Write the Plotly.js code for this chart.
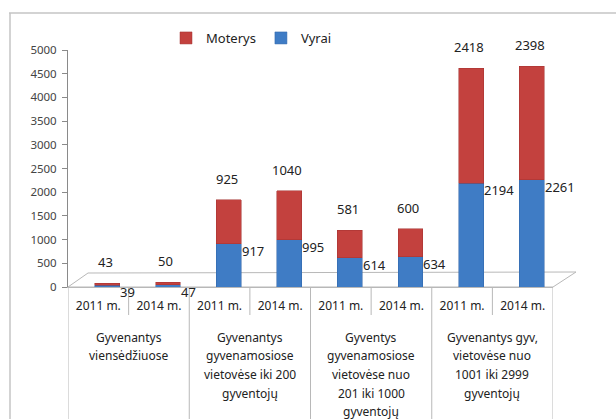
<!DOCTYPE html>
<html>
<head>
<meta charset="utf-8">
<script src="https://cdn.plot.ly/plotly-3.0.1.min.js"></script>
<style>html,body{margin:0;padding:0;background:#fff;}#chart{width:616px;height:419px;}</style>
</head>
<body>
<div id="chart"></div>
<script>
// ---- data ----
const groups = [
  "Gyvenantys\nviensėdžiuose",
  "Gyvenantys\ngyvenamosiose\nvietovėse iki 200\ngyventojų",
  "Gyventys\ngyvenamosiose\nvietovėse nuo\n201 iki 1000\ngyventojų",
  "Gyvenantys gyv,\nvietovėse nuo\n1001 iki 2999\ngyventojų"
];
const years = ["2011 m.", "2014 m."];
const vyrai   = [39, 47, 917, 995, 614, 634, 2194, 2261];
const moterys = [43, 50, 925, 1040, 581, 600, 2418, 2398];
const yTicks = [0, 500, 1000, 1500, 2000, 2500, 3000, 3500, 4000, 4500, 5000];

// ---- build categories ----
const keys = [], tickText = [];
groups.forEach((g, gi) => years.forEach(y => { keys.push("g" + gi + "|" + y); tickText.push(y); }));
const totals = vyrai.map((v, i) => v + moterys[i]);

// pixel helpers (plot area: x 68..553, y 287..50)
const L = 68, R = 553, B = 287, T = 50;
const px = v => (v - L) / (R - L);
const py = v => (B - v) / (B - T);

const FONT = "Noto Sans, Open Sans, sans-serif";
const RED = "#C3413E", BLUE = "#3F7CC5";
const barW = 0.41, barOff = -0.205 + 0.15;

const traces = [
  {type: "bar", name: "Vyrai", x: keys, y: vyrai, marker: {color: BLUE, line: {color: "#2F64A8", width: 0.5}},
   width: barW, offset: barOff, hoverinfo: "skip"},
  {type: "bar", name: "Moterys", x: keys, y: moterys, marker: {color: RED, line: {color: "#A33230", width: 0.5}},
   width: barW, offset: barOff, hoverinfo: "skip"}
];

const annotations = [];
keys.forEach((k, i) => {
  annotations.push({x: k, y: totals[i], xref: "x", yref: "y", text: String(moterys[i]), showarrow: false,
    xanchor: "center", yanchor: "middle", xshift: 7, yshift: 21, font: {family: FONT, size: 13, color: "#222"}});
  annotations.push({x: k, y: vyrai[i], xref: "x", yref: "y", text: String(vyrai[i]), showarrow: false,
    xanchor: "left", yanchor: "middle", xshift: 20, yshift: -7, font: {family: FONT, size: 13, color: "#222"}});
});
groups.forEach((g, gi) => {
  g.split("\n").forEach((line, li) => {
    annotations.push({x: gi * years.length + (years.length - 1) / 2, y: py(337 + li * 18.7), xref: "x", yref: "paper",
      text: line, showarrow: false, xanchor: "center", yanchor: "middle", font: {family: FONT, size: 12, color: "#222"}});
  });
});

const shapes = [];
const gridC = "#b8b8b8";
// table dividers
for (let gi = 0; gi <= groups.length; gi++) {
  shapes.push({type: "line", xref: "x", yref: "paper", x0: gi * years.length - 0.5, x1: gi * years.length - 0.5,
    y0: 0, y1: py(425), line: {color: gridC, width: 1}});
}
for (let gi = 0; gi < groups.length; gi++) {
  for (let yi = 1; yi < years.length; yi++) {
    const xv = gi * years.length + yi - 0.5;
    shapes.push({type: "line", xref: "x", yref: "paper", x0: xv, x1: xv, y0: 0, y1: py(315), line: {color: gridC, width: 1}});
  }
}
// 3D floor
shapes.push({type: "path", xref: "paper", yref: "paper", layer: "below",
  path: `M ${px(68)} ${py(287)} L ${px(88)} ${py(273)} L ${px(576)} ${py(272)} L ${px(553)} ${py(287)} Z`,
  line: {color: gridC, width: 1}, fillcolor: "rgba(255,255,255,0)"});
// outer frame
shapes.push({type: "line", xref: "paper", yref: "paper", x0: px(9), x1: px(620), y0: py(13), y1: py(13), line: {color: "#c4c4c4", width: 1.5}});
shapes.push({type: "line", xref: "paper", yref: "paper", x0: px(10), x1: px(10), y0: py(13), y1: py(425), line: {color: "#c4c4c4", width: 1.5}});

const layout = {
  width: 616, height: 419,
  margin: {l: L, r: 616 - R, t: T, b: 419 - B, pad: 0},
  paper_bgcolor: "#fff", plot_bgcolor: "rgba(0,0,0,0)",
  barmode: "stack",
  font: {family: FONT, size: 12, color: "#333"},
  showlegend: true,
  legend: {orientation: "h", x: px(166), y: py(38), xanchor: "left", yanchor: "middle", traceorder: "reversed",
    font: {family: FONT, size: 13, color: "#222"}, bgcolor: "rgba(0,0,0,0)", itemwidth: 30},
  xaxis: {type: "category", range: [-0.5, keys.length - 0.5], tickvals: keys, ticktext: tickText,
    showline: true, linecolor: gridC, linewidth: 1, ticks: "", showgrid: false, zeroline: false,
    tickfont: {family: FONT, size: 12, color: "#222"}, ticklabelstandoff: 8, fixedrange: true},
  yaxis: {range: [0, 5000], tickvals: yTicks, showline: true, linecolor: "#8a8a8a", linewidth: 1,
    ticks: "outside", ticklen: 5, tickcolor: "#8a8a8a", showgrid: false, zeroline: false,
    tickfont: {family: FONT, size: 11.5, color: "#444"}, ticklabelstandoff: 3, fixedrange: true},
  annotations: annotations,
  shapes: shapes
};

Plotly.newPlot("chart", traces, layout, {displayModeBar: false, staticPlot: true});
</script>
</body>
</html>
